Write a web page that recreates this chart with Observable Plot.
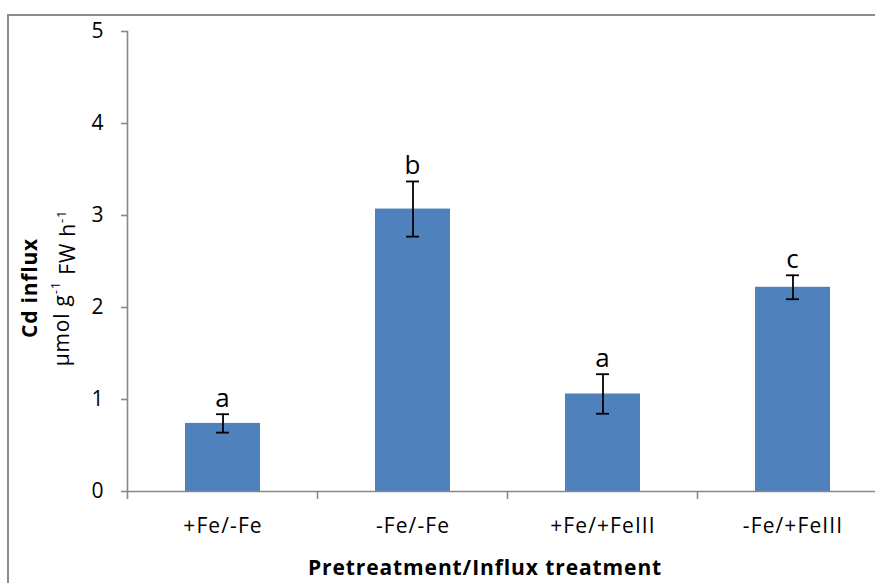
<!DOCTYPE html>
<html>
<head>
<meta charset="utf-8">
<script src="https://cdn.jsdelivr.net/npm/d3@7"></script>
<script src="https://cdn.jsdelivr.net/npm/@observablehq/plot@0.6"></script>
<style>
  html, body { margin: 0; padding: 0; background: white; overflow: hidden; width: 875px; height: 583px; }
  #wrap { position: relative; width: 875px; height: 583px; overflow: hidden; }
  #border { position: absolute; left: 7px; top: 14px; width: 2000px; height: 2000px; border: 2px solid #8c8c8c; box-sizing: border-box; }
  #chart { position: absolute; left: 0; top: 0; }
</style>
</head>
<body>
<div id="wrap"><div id="border"></div><div id="chart"></div></div>
<script>
const categories = ["+Fe/-Fe", "-Fe/-Fe", "+Fe/+FeIII", "-Fe/+FeIII"];
const influx = [0.74, 3.07, 1.06, 2.22];
const errors = [0.10, 0.30, 0.215, 0.13];
const letters = ["a", "b", "a", "c"];
const yTicks = [0, 1, 2, 3, 4, 5];

const data = categories.map((c, i) => ({cat: c, value: influx[i], lo: influx[i] - errors[i], hi: influx[i] + errors[i], letter: letters[i]}));

const font = "'Open Sans', 'DejaVu Sans', sans-serif";
const axisColor = "#888888";

const chart = Plot.plot({
  width: 900,
  height: 583,
  marginLeft: 128,
  marginRight: 12,
  marginTop: 31,
  marginBottom: 92,
  style: {background: "transparent", maxWidth: "none", fontFamily: font, fontSize: "21px", color: "black", overflow: "visible", letterSpacing: "1.1px"},
  x: {domain: categories, paddingInner: 0.605, paddingOuter: 0.3025, label: null},
  y: {domain: [0, 5], label: null},
  marks: [
    Plot.barY(data, {x: "cat", y: "value", fill: "#4f81bd"}),
    Plot.ruleY([0], {stroke: axisColor, strokeWidth: 1.6}),
    Plot.axisY({ticks: yTicks, tickSize: 7, tickPadding: 17, stroke: axisColor, strokeWidth: 1.6, fontSize: 21, label: null, tickFormat: d => String(d)}),
    Plot.axisX({tickSize: 0, tickPadding: 27, fontSize: 21, label: null}),
    Plot.ruleX(data, {x: "cat", y1: "lo", y2: "hi", stroke: "black", strokeWidth: 1.8}),
    Plot.tickY(data, {x: "cat", y: "lo", insetLeft: 31, insetRight: 31, stroke: "black", strokeWidth: 1.8}),
    Plot.tickY(data, {x: "cat", y: "hi", insetLeft: 31, insetRight: 31, stroke: "black", strokeWidth: 1.8}),
    Plot.text(data, {x: "cat", y: "hi", text: "letter", lineAnchor: "bottom", dy: -7, fontSize: 26, fill: "black"})
  ]
});

// Axis line and category-boundary ticks, positioned from the chart's own scales
const xs = chart.scale("x");
const ys = chart.scale("y");
const starts = categories.map(c => xs.apply(c));
const step = starts[1] - starts[0];
const bw = xs.bandwidth;
const bounds = starts.map(s => s - (step - bw) / 2);
bounds.push(bounds[bounds.length - 1] + step);
const y0 = ys.apply(0), yTop = ys.apply(5);
const svg = d3.select(chart);
const g = svg.append("g").attr("stroke", axisColor).attr("stroke-width", 1.6);
g.append("line").attr("x1", bounds[0]).attr("x2", bounds[0]).attr("y1", y0 + 0.8).attr("y2", yTop);
bounds.forEach(b => g.append("line").attr("x1", b).attr("x2", b).attr("y1", y0).attr("y2", y0 + 8));

// Axis titles
const t = svg.append("g").attr("font-family", font).attr("fill", "black").attr("text-anchor", "middle");
t.append("text").attr("transform", "translate(30,288) rotate(-90)").attr("dy", "0.35em")
  .attr("font-size", 21).attr("font-weight", "bold").attr("letter-spacing", "0.8px").text("Cd influx");
const t2 = t.append("text").attr("transform", "translate(62,288) rotate(-90)").attr("dy", "0.35em").attr("font-size", 21).attr("letter-spacing", "0.8px");
t2.append("tspan").text("µmol g");
t2.append("tspan").attr("font-size", 13).attr("dy", "-0.7em").text("-1");
t2.append("tspan").attr("dy", "0.7em").text(" FW h");
t2.append("tspan").attr("font-size", 13).attr("dy", "-0.7em").text("-1");
t.append("text").attr("x", 485).attr("y", 575).attr("font-size", 21).attr("font-weight", "bold").attr("letter-spacing", "0.9px")
  .text("Pretreatment/Influx treatment");

document.getElementById("chart").appendChild(chart);
</script>
</body>
</html>
